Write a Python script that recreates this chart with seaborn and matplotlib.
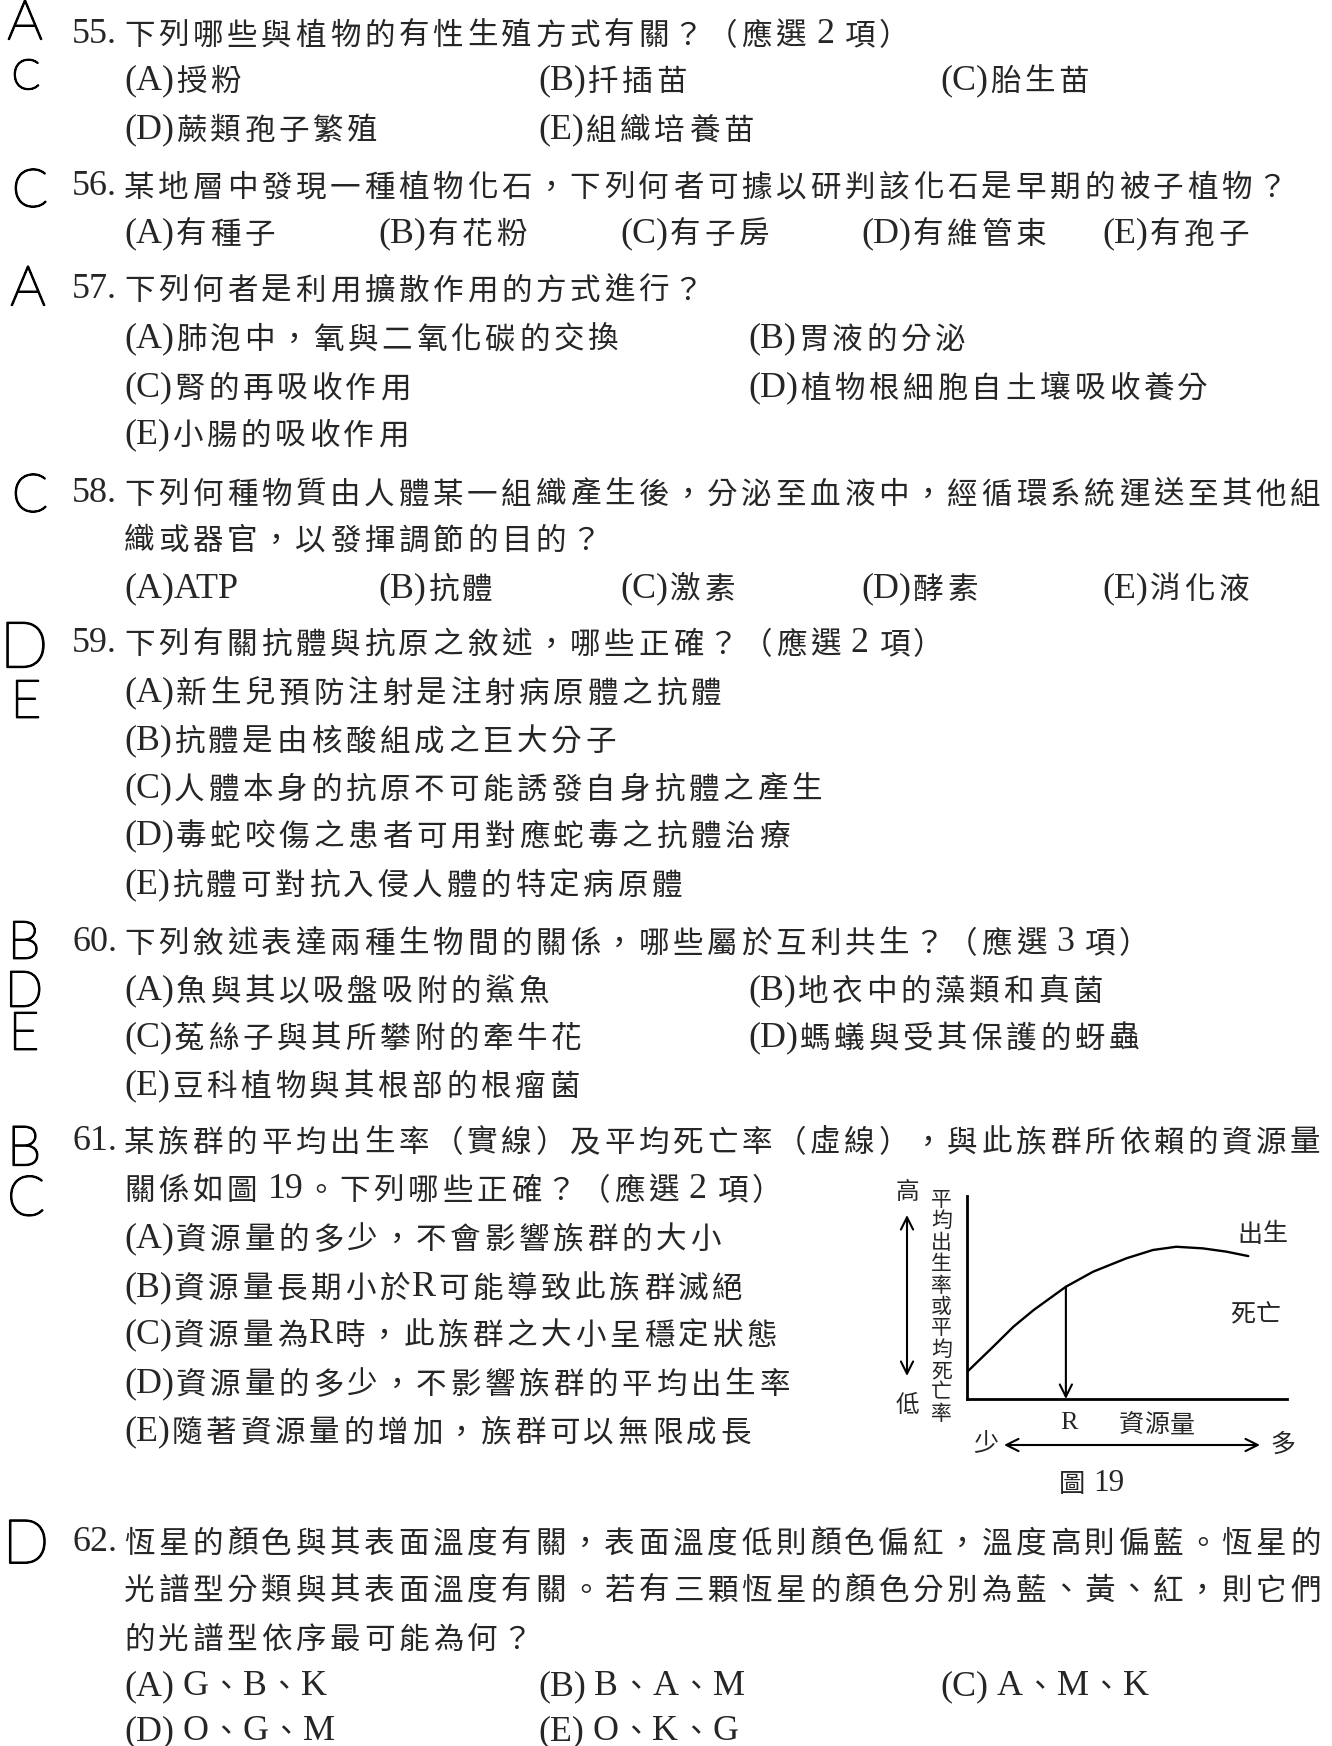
import matplotlib
matplotlib.use("Agg")
import matplotlib.pyplot as plt
import matplotlib.patheffects as pe
from matplotlib.font_manager import FontProperties
import seaborn as sns
import pandas as pd

# figure 19: birth-rate curve against resource amount (axes run 0..1)
resource = [0.0, 0.082, 0.145, 0.208, 0.309, 0.394, 0.498, 0.581, 0.654, 0.737, 0.810, 0.879]
birth_rate = [0.133, 0.258, 0.356, 0.438, 0.553, 0.627, 0.693, 0.734, 0.750, 0.742, 0.726, 0.704]
r_index = 4  # resource level R

y_label = "平均出生率或平均死亡率"

# page text, one entry per printed line
q55 = ["55.", "下列哪些與植物的有性生殖方式有關？（應選 2 項）"]
q55_opts = [["(A)授粉", "(B)扦插苗", "(C)胎生苗"], ["(D)蕨類孢子繁殖", "(E)組織培養苗"]]
q56 = ["56.", "某地層中發現一種植物化石，下列何者可據以研判該化石是早期的被子植物？"]
q56_opts = ["(A)有種子", "(B)有花粉", "(C)有子房", "(D)有維管束", "(E)有孢子"]
q57 = ["57.", "下列何者是利用擴散作用的方式進行？"]
q57_opts = [["(A)肺泡中，氧與二氧化碳的交換", "(B)胃液的分泌"],
            ["(C)腎的再吸收作用", "(D)植物根細胞自土壤吸收養分"],
            ["(E)小腸的吸收作用"]]
q58 = ["58.", "下列何種物質由人體某一組織產生後，分泌至血液中，經循環系統運送至其他組",
       "織或器官，以發揮調節的目的？"]
q58_opts = ["(A)ATP", "(B)抗體", "(C)激素", "(D)酵素", "(E)消化液"]
q59 = ["59.", "下列有關抗體與抗原之敘述，哪些正確？（應選 2 項）"]
q59_opts = ["(A)新生兒預防注射是注射病原體之抗體",
            "(B)抗體是由核酸組成之巨大分子",
            "(C)人體本身的抗原不可能誘發自身抗體之產生",
            "(D)毒蛇咬傷之患者可用對應蛇毒之抗體治療",
            "(E)抗體可對抗入侵人體的特定病原體"]
q60 = ["60.", "下列敘述表達兩種生物間的關係，哪些屬於互利共生？（應選 3 項）"]
q60_opts = [["(A)魚與其以吸盤吸附的鯊魚", "(B)地衣中的藻類和真菌"],
            ["(C)菟絲子與其所攀附的牽牛花", "(D)螞蟻與受其保護的蚜蟲"],
            ["(E)豆科植物與其根部的根瘤菌"]]
q61 = ["61.", "某族群的平均出生率（實線）及平均死亡率（虛線），與此族群所依賴的資源量",
       "關係如圖 19。下列哪些正確？（應選 2 項）"]
q61_opts = ["(A)資源量的多少，不會影響族群的大小",
            "(B)資源量長期小於R可能導致此族群滅絕",
            "(C)資源量為R時，此族群之大小呈穩定狀態",
            "(D)資源量的多少，不影響族群的平均出生率",
            "(E)隨著資源量的增加，族群可以無限成長"]
q62 = ["62.", "恆星的顏色與其表面溫度有關，表面溫度低則顏色偏紅，溫度高則偏藍。恆星的",
       "光譜型分類與其表面溫度有關。若有三顆恆星的顏色分別為藍、黃、紅，則它們",
       "的光譜型依序最可能為何？"]
q62_opts = [["(A) G、B、K", "(B) B、A、M", "(C) A、M、K"], ["(D) O、G、M", "(E) O、K、G"]]

answers = ["A", "C", "C", "A", "C", "D", "E", "B", "D", "E", "B", "C", "D"]

W, H = 1332, 1746
sns.set_style("white")
plt.rcParams["font.family"] = ["Liberation Serif", "Noto Sans CJK TC"]

fig = plt.figure(figsize=(W / 100, H / 100), dpi=100)
fig.patch.set_facecolor("white")
renderer = fig.canvas.get_renderer()

PITCH = 34.3
LATIN_SCALE = 1.18


def is_cjk(ch):
    return ord(ch) > 0x2000


def put(x, y, s, size=22, pitch=PITCH):
    # x: left edge in px, y: line centre in px from the top
    px = size * 100 / 72
    base = H - (y + 0.38 * px)
    cjk = FontProperties(family="Noto Sans CJK TC", size=size)
    lat = FontProperties(family="Liberation Serif", size=size * LATIN_SCALE)
    i = 0
    while i < len(s):
        ch = s[i]
        if ch == " ":
            x += 0.27 * px
            i += 1
        elif is_cjk(ch):
            fig.text((x + pitch / 2) / W, base / H, ch, fontproperties=cjk,
                     ha="center", va="baseline")
            x += pitch
            i += 1
        else:
            j = i
            while j < len(s) and not is_cjk(s[j]) and s[j] != " ":
                j += 1
            run = s[i:j]
            fig.text(x / W, (base + 0.04 * px) / H, run, fontproperties=lat,
                     ha="left", va="baseline")
            x += renderer.get_text_width_height_descent(run, lat, ismath=False)[0]
            i = j


X_NUM, X_TXT, X_OPT = 72, 122, 124
COL3 = [X_OPT, 538, 940]
COL5 = [X_OPT, 378, 620, 861, 1102]
COL2 = [X_OPT, 748]

# question 55
put(X_NUM, 33, q55[0]); put(X_TXT, 33, q55[1])
for y, row in zip([79, 128], q55_opts):
    for x, t in zip(COL3, row):
        put(x, y, t)
# question 56
put(X_NUM, 185, q56[0]); put(X_TXT, 185, q56[1])
for x, t in zip(COL5, q56_opts):
    put(x, 232, t)
# question 57
put(X_NUM, 288, q57[0]); put(X_TXT, 288, q57[1])
for y, row in zip([337, 386, 433], q57_opts):
    for x, t in zip(COL2, row):
        put(x, y, t)
# question 58
put(X_NUM, 492, q58[0]); put(X_TXT, 492, q58[1]); put(X_TXT, 538, q58[2])
for x, t in zip(COL5, q58_opts):
    put(x, 587, t)
# question 59
put(X_NUM, 642, q59[0]); put(X_TXT, 642, q59[1])
for y, t in zip([691, 739, 787, 834, 883], q59_opts):
    put(X_OPT, y, t)
# question 60
put(X_NUM, 941, q60[0]); put(X_TXT, 941, q60[1])
for y, row in zip([989, 1036, 1084], q60_opts):
    for x, t in zip(COL2, row):
        put(x, y, t)
# question 61
put(X_NUM, 1140, q61[0]); put(X_TXT, 1140, q61[1]); put(X_TXT, 1188, q61[2])
for y, t in zip([1237, 1286, 1333, 1382, 1430], q61_opts):
    put(X_OPT, y, t)
# question 62
put(X_NUM, 1541, q62[0]); put(X_TXT, 1541, q62[1])
put(X_TXT, 1588, q62[2]); put(X_TXT, 1637, q62[3])
for y, row in zip([1685, 1730], q62_opts):
    for x, t in zip(COL3, row):
        put(x, y, t)

# handwritten answers in the margin (thin pen strokes)
mark_xy = [(25, 24), (26, 78), (30, 192), (28, 290), (30, 497), (24, 650), (26, 703),
           (24, 944), (24, 993), (24, 1035), (24, 1150), (26, 1200), (26, 1546)]
mark_size = [40, 30, 38, 40, 38, 46, 38, 38, 36, 38, 40, 40, 44]
pen = [pe.withStroke(linewidth=1.3, foreground="black")]
for letter, (x, y), s in zip(answers, mark_xy, mark_size):
    fig.text(x / W, 1 - y / H, letter, family="Lato", fontweight="light",
             fontsize=s, ha="center", va="center", color="black", path_effects=pen)

# figure 19
ax = fig.add_axes([967 / W, 1 - 1399 / H, 320 / W, 203 / H])
df = pd.DataFrame({"resource": resource, "birth": birth_rate})
sns.lineplot(data=df, x="resource", y="birth", ax=ax, color="black", lw=1.7)
ax.set_xlim(0, 1)
ax.set_ylim(0, 1)
ax.set_xticks([])
ax.set_yticks([])
ax.set_xlabel("")
ax.set_ylabel("")
ax.patch.set_alpha(0)
for side in ["top", "right"]:
    ax.spines[side].set_visible(False)
for side in ["left", "bottom"]:
    ax.spines[side].set_linewidth(2.0)
    ax.spines[side].set_color("black")

r = resource[r_index]
ax.annotate("", xy=(r, 0.0), xytext=(r, birth_rate[r_index]),
            arrowprops=dict(arrowstyle="->", lw=1.5, color="black",
                            mutation_scale=22, shrinkA=0, shrinkB=0))

arrow = dict(arrowstyle="<->", lw=1.5, color="black", mutation_scale=22,
             shrinkA=0, shrinkB=0)
ax.annotate("", xy=(907, H - 1215), xytext=(907, H - 1376),
            xycoords="figure pixels", textcoords="figure pixels", arrowprops=arrow)
ax.annotate("", xy=(1004, H - 1445), xytext=(1260, H - 1445),
            xycoords="figure pixels", textcoords="figure pixels", arrowprops=arrow)

put(896, 1190, "高", size=17, pitch=22)
put(896, 1403, "低", size=17, pitch=22)
for k, ch in enumerate(y_label):
    put(931, 1198 + k * 21.4, ch, size=15, pitch=21)
put(1237, 1232, "出生", size=18, pitch=25.5)
put(1230, 1313, "死亡", size=18, pitch=25.5)
put(1060, 1421, "R", size=16)
put(1118, 1423, "資源量", size=18, pitch=25.6)
put(973, 1441, "少", size=18, pitch=25)
put(1270, 1442, "多", size=18, pitch=25)
put(1058, 1482, "圖 19", size=19, pitch=28)

fig.savefig("out.png", dpi=100, facecolor="white")
